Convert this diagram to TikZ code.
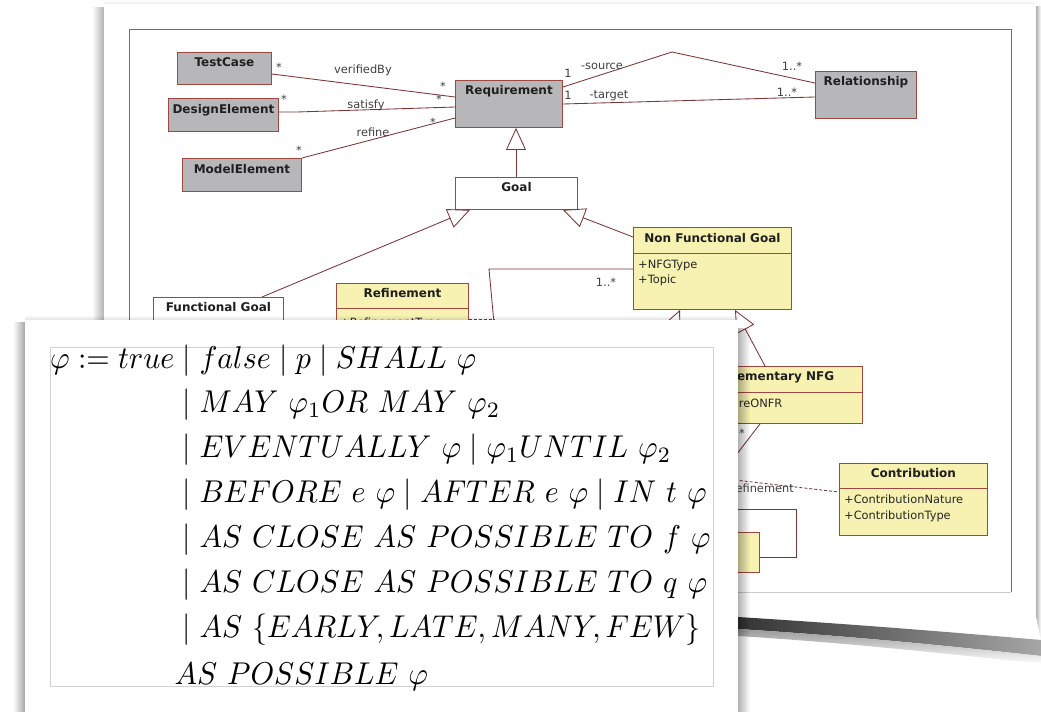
\documentclass[tikz,border=0pt]{standalone}
\usepackage{fontspec}
\setsansfont{DejaVu Sans}
\usetikzlibrary{arrows.meta,calc,shadings,fadings}
\definecolor{boxred}{HTML}{A0473F}
\definecolor{linered}{HTML}{7D3535}
\definecolor{umlgray}{HTML}{B7B7BA}
\definecolor{umlyellow}{HTML}{F7F2B2}
\definecolor{framegray}{HTML}{6E6E6E}
\tikzset{
  cls/.style={draw=boxred, line width=0.9pt, inner sep=0pt, anchor=north west},
  grayclass/.style={cls, fill=umlgray},
  yellowclass/.style={cls, fill=umlyellow},
  whiteclass/.style={cls, fill=white},
  ctitle/.style={font=\sffamily\bfseries\fontsize{12}{14}\selectfont, inner sep=0pt, anchor=mid, text=black!88},
  cattr/.style={font=\sffamily\fontsize{11.4}{15.5}\selectfont, inner sep=0pt, anchor=west, text=black!85, align=left},
  alabel/.style={font=\sffamily\fontsize{11.4}{13}\selectfont, inner sep=0pt, anchor=mid, text=black!75},
  assoc/.style={draw=linered, line width=0.85pt},
  gen/.style={assoc, -{Triangle[open, length=22pt, width=20pt]}},
  sep/.style={draw=boxred, line width=0.9pt},
  fline/.style={inner sep=0pt, anchor=base west},
}
\begin{document}
\begin{tikzpicture}[x=1pt, y=-1pt]
\useasboundingbox (0,0) rectangle (1041,712);
% ---------- back card ----------
\fill[black, opacity=0.3, path fading=west] (92,6) rectangle (104,618);
\fill[black, opacity=0.3, path fading=east] (1036,6) rectangle (1041,640);
\fill[black, opacity=0.08, path fading=north] (104,0) rectangle (1036,4);
\fill[white] (104,4) rectangle (1036,618);
\fill[white] (738,617) -- (1036,617) -- (1041,640) -- cycle;
\shade[left color=black!80, right color=black!35]
  (738,617) .. controls (850,624) and (950,632) .. (1041,640)
  -- (1041,656) .. controls (950,646) and (850,636) .. (738,629) -- cycle;
\shade[top color=black!40, bottom color=white]
  (738,629) .. controls (850,636) and (950,646) .. (1041,656)
  -- (1041,664) .. controls (950,654) and (850,643) .. (738,636) -- cycle;
% frame
\draw[framegray, line width=0.8pt] (129,592) -- (129,29) -- (1011,29) -- (1011,592);
\draw[black!20, line width=0.6pt] (129,592) -- (1011,592);
% ---------- classes ----------
\node[grayclass, minimum width=94pt, minimum height=32pt] (tc) at (177,52) {};
\node[ctitle] (tct) at ($(tc.north)+(0,12.5)$) {TestCase};
\node[grayclass, minimum width=110pt, minimum height=33pt] (de) at (168,98) {};
\node[ctitle] (det) at ($(de.north)+(0,13)$) {DesignElement};
\node[grayclass, minimum width=119pt, minimum height=33pt] (me) at (182,158) {};
\node[ctitle] (met) at ($(me.north)+(0,13)$) {ModelElement};
\node[grayclass, minimum width=107pt, minimum height=47pt] (req) at (455,80) {};
\node[ctitle] (reqt) at ($(req.north)+(0,12.5)$) {Requirement};
\node[grayclass, minimum width=101pt, minimum height=47pt] (rel) at (815,71) {};
\node[ctitle] (relt) at ($(rel.north)+(0,12.5)$) {Relationship};
\node[whiteclass, minimum width=122pt, minimum height=32pt] (goal) at (455,177) {};
\node[ctitle] (goalt) at ($(goal.north)+(0,12.5)$) {Goal};
\node[yellowclass, minimum width=158pt, minimum height=82pt] (nfg) at (633,227) {};
\node[ctitle] (nfgt) at ($(nfg.north)+(0,13)$) {Non Functional Goal};
\draw[sep] ($(nfg.north west)+(0,26)$) -- ($(nfg.north east)+(0,26)$);
\node[cattr] (nfga) at ($(nfg.north west)+(5,46)$) {+NFGType\\+Topic};
\node[yellowclass, minimum width=166pt, minimum height=57pt] (enfg) at (696,366) {};
\node[ctitle] (enfgt) at ($(enfg.north)+(0,12.5)$) {Elementary NFG};
\draw[sep] ($(enfg.north west)+(0,26)$) -- ($(enfg.north east)+(0,26)$);
\node[cattr] (enfga) at ($(enfg.north west)+(6,37)$) {+NatureONFR};
\node[yellowclass, minimum width=148pt, minimum height=72pt] (con) at (839,463) {};
\node[ctitle] (cont) at ($(con.north)+(0,12.5)$) {Contribution};
\draw[sep] ($(con.north west)+(0,25)$) -- ($(con.north east)+(0,25)$);
\node[cattr] (cona) at ($(con.north west)+(5,45.5)$) {+ContributionNature\\+ContributionType};
\node[yellowclass, minimum width=132pt, minimum height=60pt] (ref) at (336,283) {};
\node[ctitle] (reft) at ($(ref.north)+(0,12.5)$) {Refinement};
\draw[sep] ($(ref.north west)+(0,25)$) -- ($(ref.north east)+(0,25)$);
\node[cattr] (refa) at ($(ref.north west)+(4,40)$) {+RefinementType};
\node[whiteclass, minimum width=130pt, minimum height=50pt] (fg) at (153,297) {};
\node[ctitle] (fgt) at ($(fg.north)+(0,12.5)$) {Functional Goal};
\node[yellowclass, minimum width=139pt, minimum height=40pt] (hb) at (620,532) {};
% ---------- connectors ----------
\draw[assoc] ($(tc.north east)+(0,22)$) -- ($(req.north west)+(0,17)$);
\draw[assoc] ($(de.north east)+(0,14)$) -- ++(18,0) -- ($(req.north west)+(0,27)$);
\draw[assoc] (me.north east) -- ($(req.north west)+(0,38)$);
\coordinate (peak) at (672,52);
\draw[assoc] ($(req.north east)+(0,7)$) -- (peak) -- ($(rel.north west)+(0,12)$);
\draw[assoc] ($(req.north east)+(0,24)$) -- ($(rel.north west)+(0,26)$);
\draw[gen] ($(goal.north west)+(61,0)$) -- ($(req.south west)+(61,0)$);
\draw[gen] ($(fg.north west)+(109,0)$) -- ($(goal.south west)+(15,0)$);
\draw[gen] ($(nfg.north west)+(0,10)$) -- ($(goal.south east)+(-15,0)$);
\draw[gen] ($(enfg.north west)+(69,0)$) -- ($(nfg.south west)+(102,0)$);
\coordinate (hidgen) at (640,400);
\draw[gen] (hidgen) -- ($(nfg.south west)+(47,0)$);
\coordinate (rbend) at (496,345);
\draw[assoc] ($(nfg.north west)+(0,42)$) -- (489,269) -- (rbend);
\draw[assoc, dashed, dash pattern=on 3pt off 2pt] ($(ref.north east)+(0,36)$) -- (494,319);
\coordinate (enfgend) at (720,476);
\draw[assoc] ($(enfg.south west)+(64,0)$) -- (enfgend);
\coordinate (dashstart) at (700,476);
\draw[assoc, dashed, dash pattern=on 3pt off 2pt] (dashstart) -- ($(con.north west)+(0,29)$);
\draw[assoc] ($(hb.north east)+(0,25)$) -- ++(37,0) -- ++(0,-48) -- ($(hb.north)+(0,-23)$) -- (hb.north);
% ---------- labels ----------
\node[alabel] (l1) at (363,71) {verifiedBy};
\node[alabel] (l2) at (279,69) {*};
\node[alabel] (l3) at (443,88) {*};
\node[alabel] (l4) at (366,106) {satisfy};
\node[alabel] (l5) at (284,101) {*};
\node[alabel] (l6) at (439,101) {*};
\node[alabel] (l7) at (373,134) {refine};
\node[alabel] (l8) at (299,152) {*};
\node[alabel] (l9) at (433,124) {*};
\node[alabel] (l10) at (602,67) {-source};
\node[alabel] (l11) at (568,75) {1};
\node[alabel] (l12) at (792,68) {1..*};
\node[alabel] (l13) at (609,96) {-target};
\node[alabel] (l14) at (568,97) {1};
\node[alabel] (l15) at (787,94) {1..*};
\node[alabel] (l16) at (606,284) {1..*};
\node[alabel] (l17) at (742,435) {*};
\node[alabel, anchor=mid east] (l18) at (794,490) {Refinement};
% ---------- front card ----------
\fill[black, opacity=0.35, path fading=west] (13,322) rectangle (25,712);
\fill[black, opacity=0.3, path fading=east] (738,328) rectangle (750,712);
\fill[black, opacity=0.12, path fading=north] (25,315) rectangle (738,320);
\fill[white] (25,320) rectangle (738,712);
\draw[black!18, line width=0.8pt] (50,347) rectangle (713,686);
\node[fline] (formula) at (50,368) {\scalebox{3.0}[3.15]{\renewcommand{\arraystretch}{1.19}%
$\begin{array}[t]{@{}r@{}l@{}}
\varphi := true & {}\mid false \mid p \mid SHALL\ \varphi\\
 & {}\mid MAY\ \varphi_1 OR\ MAY\ \varphi_2\\
 & {}\mid EVENTUALLY\ \varphi \mid \varphi_1 UNTIL\ \varphi_2\\
 & {}\mid BEFORE\ e\ \varphi \mid AFTER\ e\ \varphi \mid IN\ t\ \varphi\\
 & {}\mid AS\ CLOSE\ AS\ POSSIBLE\ TO\ f\ \varphi\\
 & {}\mid AS\ CLOSE\ AS\ POSSIBLE\ TO\ q\ \varphi\\
 & {}\mid AS\ \{EARLY, LATE, MANY, FEW\}\\[0.6pt]
 & AS\ POSSIBLE\ \varphi
\end{array}$}};
\end{tikzpicture}
\end{document}
